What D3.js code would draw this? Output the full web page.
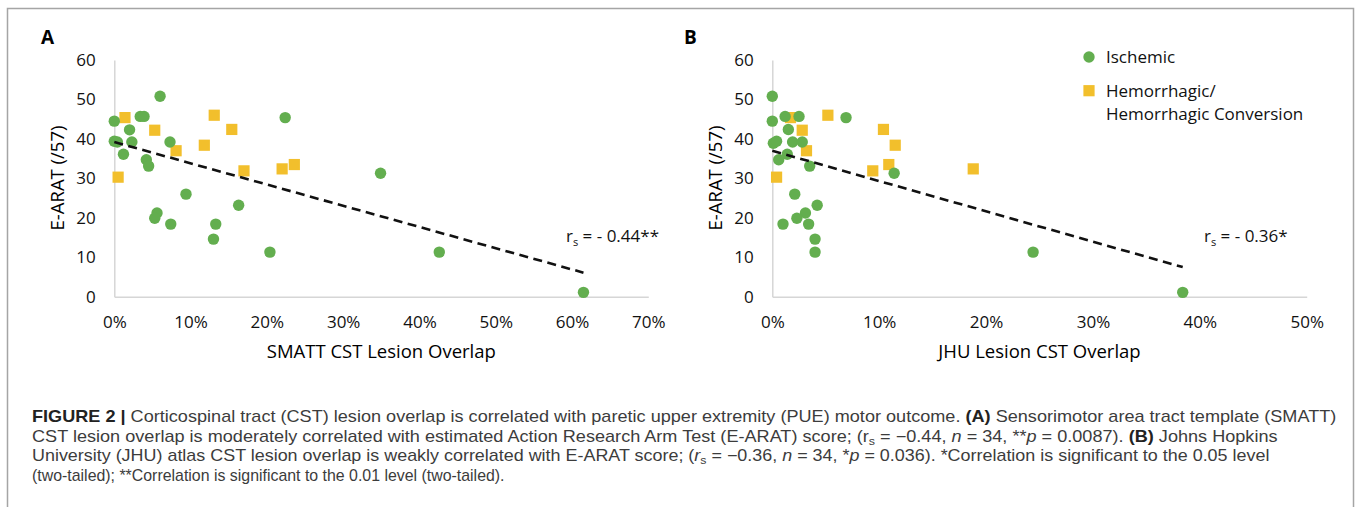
<!DOCTYPE html>
<html>
<head>
<meta charset="utf-8">
<script src="https://cdn.jsdelivr.net/npm/d3@7"></script>
<style>
    body { margin: 0; background: #fff; }
    svg { display: block; }
    .tick text { font-family: "Open Sans", sans-serif; font-size: 17px; fill: #111; }
    .domain { stroke: #d6d6d6; stroke-width: 1.5; }
</style>
</head>
<body>
<div id="fig"></div>
<script>
// values: [lesion overlap %, E-ARAT score]
let ischemicA = [
    [0, 44.5], [6.0, 50.8], [3.4, 45.7], [3.9, 45.7], [2.0, 42.3], [0, 39.4],
    [0.4, 39.2], [2.3, 39.2], [7.3, 39.2], [1.2, 36.1], [4.2, 34.7], [4.5, 33.1],
    [9.4, 26.0], [16.3, 23.2], [5.6, 21.2], [5.3, 19.9], [7.4, 18.4], [13.3, 18.4],
    [13.0, 14.6], [20.4, 11.3], [22.4, 45.4], [34.9, 31.3], [42.6, 11.3], [61.5, 1.1]
];
let hemorrhagicA = [
    [1.4, 45.4], [5.3, 42.2], [13.1, 46.0], [15.4, 42.4], [8.1, 37.0],
    [11.8, 38.4], [0.5, 30.3], [17.0, 31.9], [22.0, 32.4], [23.6, 33.5]
];
let ischemicB = [
    [0, 50.8], [0, 44.5], [1.2, 45.7], [2.5, 45.7], [6.9, 45.4], [1.5, 42.4],
    [0.1, 38.9], [0.4, 39.4], [1.9, 39.2], [2.8, 39.2], [1.4, 36.1], [0.6, 34.7],
    [3.5, 33.1], [11.4, 31.3], [2.1, 26.0], [4.2, 23.2], [3.1, 21.2], [2.3, 19.9],
    [1.0, 18.4], [3.4, 18.4], [4.0, 14.6], [4.0, 11.3], [24.4, 11.3], [38.4, 1.1]
];
let hemorrhagicB = [
    [1.7, 45.4], [2.8, 42.2], [3.2, 37.0], [5.2, 46.0], [10.4, 42.4],
    [11.5, 38.4], [0.4, 30.3], [9.4, 31.9], [10.9, 33.5], [18.8, 32.4]
];
// linear trend line end points
let trendA = [[0, 39.2], [61.5, 6.1]];
let trendB = [[0, 37.0], [38.4, 7.5]];

let yTicks = [0, 10, 20, 30, 40, 50, 60];
let xTicksA = [0, 10, 20, 30, 40, 50, 60, 70];
let xTicksB = [0, 10, 20, 30, 40, 50];
let legendLabels = ['Ischemic', 'Hemorrhagic/', 'Hemorrhagic Conversion'];

let width = 1358,
    height = 507,
    chartFont = '"Open Sans", sans-serif',
    green = '#63ae4f',
    gold = '#f2bf2c';

let svg = d3.select('#fig').append('svg')
    .attr('width', width)
    .attr('height', height);

// outer frame
svg.append('rect')
    .attr('x', 7.5).attr('y', 8.5)
    .attr('width', 1346).attr('height', 520)
    .attr('fill', 'none')
    .attr('stroke', '#a5a5a5')
    .attr('stroke-width', 1.5);

let y = d3.scaleLinear().domain([0, 60]).range([296.7, 60]);

function drawPanel(opts) {
    let x = d3.scaleLinear().domain(opts.domain).range(opts.range);
    let g = svg.append('g');

    g.append('g')
        .attr('transform', 'translate(0,' + y(0) + ')')
        .call(d3.axisBottom(x).tickValues(opts.xTicks).tickSize(0).tickPadding(19)
            .tickFormat(function(d) { return d + '%'; }));

    g.append('g')
        .attr('transform', 'translate(' + x(0) + ',0)')
        .call(d3.axisLeft(y).tickValues(yTicks).tickSize(0).tickPadding(18.5));

    // panel letter
    g.append('text')
        .attr('x', opts.letterX).attr('y', 44)
        .attr('font-family', chartFont)
        .attr('font-weight', 'bold')
        .attr('font-size', 19)
        .text(opts.letter);

    // axis titles
    g.append('text')
        .attr('x', (opts.range[0] + opts.range[1]) / 2)
        .attr('y', 358)
        .attr('text-anchor', 'middle')
        .attr('font-family', chartFont)
        .attr('font-size', 18.5)
        .text(opts.xTitle);

    g.append('text')
        .attr('transform', 'translate(' + (x(0) - 50) + ',178) rotate(-90)')
        .attr('text-anchor', 'middle')
        .attr('font-family', chartFont)
        .attr('font-size', 18.5)
        .text('E-ARAT (/57)');

    g.selectAll('.sq')
        .data(opts.hem)
        .enter().append('rect')
        .attr('class', 'sq')
        .attr('x', function(d) { return x(d[0]) - 5.6; })
        .attr('y', function(d) { return y(d[1]) - 5.6; })
        .attr('width', 11.2).attr('height', 11.2)
        .attr('fill', gold);

    g.selectAll('.dot')
        .data(opts.isch)
        .enter().append('circle')
        .attr('class', 'dot')
        .attr('cx', function(d) { return x(d[0]); })
        .attr('cy', function(d) { return y(d[1]); })
        .attr('r', 5.7)
        .attr('fill', green);

    g.append('path')
        .datum(opts.trend)
        .attr('d', d3.line()
            .x(function(d) { return x(d[0]); })
            .y(function(d) { return y(d[1]); }))
        .attr('fill', 'none')
        .attr('stroke', '#111')
        .attr('stroke-width', 2.6)
        .attr('stroke-dasharray', '9,5.5');

    // correlation label
    let lab = g.append('text')
        .attr('x', opts.labelX).attr('y', 242)
        .attr('font-family', chartFont)
        .attr('font-size', 17)
        .attr('fill', '#111');
    lab.append('tspan').text('r');
    lab.append('tspan').attr('font-size', 11).attr('dy', 4).text('s');
    lab.append('tspan').attr('dy', -4).text(' = - ' + opts.rs);
}

drawPanel({
    letter: 'A', letterX: 41,
    domain: [0, 70], range: [114.3, 648.3], xTicks: xTicksA,
    isch: ischemicA, hem: hemorrhagicA, trend: trendA,
    xTitle: 'SMATT CST Lesion Overlap',
    rs: '0.44**', labelX: 566
});

drawPanel({
    letter: 'B', letterX: 684,
    domain: [0, 50], range: [772.3, 1306.7], xTicks: xTicksB,
    isch: ischemicB, hem: hemorrhagicB, trend: trendB,
    xTitle: 'JHU Lesion CST Overlap',
    rs: '0.36*', labelX: 1204
});

// legend
let leg = svg.append('g')
    .attr('font-family', chartFont)
    .attr('font-size', 17)
    .attr('fill', '#111');
leg.append('circle').attr('cx', 1089).attr('cy', 57).attr('r', 5.7).attr('fill', green);
leg.append('rect').attr('x', 1083.4).attr('y', 85.1).attr('width', 11.2).attr('height', 11.2).attr('fill', gold);
leg.selectAll('.ltxt')
    .data(legendLabels)
    .enter().append('text')
    .attr('class', 'ltxt')
    .attr('x', 1106)
    .attr('y', function(d, i) { return [63, 97, 120][i]; })
    .text(function(d) { return d; });

// caption, written as segments: b = bold, i = italic, s = subscript
let captionLines = [
    [{t: 'FIGURE 2 |', b: 1}, {t: ' Corticospinal tract (CST) lesion overlap is correlated with paretic upper extremity (PUE) motor outcome. '},
        {t: '(A)', b: 1}, {t: ' Sensorimotor area tract template (SMATT)'}],
    [{t: 'CST lesion overlap is moderately correlated with estimated Action Research Arm Test (E-ARAT) score; (r'},
        {t: 's', s: 1}, {t: ' = \u22120.44, '}, {t: 'n', i: 1}, {t: ' = 34, **'}, {t: 'p', i: 1},
        {t: ' = 0.0087). '}, {t: '(B)', b: 1}, {t: ' Johns Hopkins'}],
    [{t: 'University (JHU) atlas CST lesion overlap is weakly correlated with E-ARAT score; ('}, {t: 'r', i: 1},
        {t: 's', s: 1}, {t: ' = \u22120.36, '}, {t: 'n', i: 1}, {t: ' = 34, *'}, {t: 'p', i: 1},
        {t: ' = 0.036). *Correlation is significant to the 0.05 level'}],
    [{t: '(two-tailed); **Correlation is significant to the 0.01 level (two-tailed).'}]
];
// right ends of the caption lines in the original (condensed face)
let captionEnds = [1337, 1278, 1270, 505];

let cap = svg.append('g');
captionLines.forEach(function(segs, li) {
    let row = cap.append('g');
    let txt = row.append('text')
        .attr('x', 0).attr('y', 0)
        .attr('font-family', '"Liberation Sans Narrow", "Liberation Sans", Arial, sans-serif')
        .attr('font-size', 16)
        .attr('fill', '#3c3c3c');
    let shifted = false;
    segs.forEach(function(s) {
        let ts = txt.append('tspan').text(s.t);
        if (s.b) ts.attr('font-weight', 'bold').attr('fill', '#222');
        if (s.i) ts.attr('font-style', 'italic');
        if (s.s) {
            ts.attr('font-size', 11).attr('dy', 3);
            shifted = true;
        } else if (shifted) {
            ts.attr('dy', -3);
            shifted = false;
        }
    });
    // squeeze each line to the width it has in the original
    let k = (captionEnds[li] - 32) / txt.node().getBBox().width;
    row.attr('transform', 'translate(32,' + (422 + li * 19.6) + ') scale(' + k + ',1)');
});
</script>
</body>
</html>
